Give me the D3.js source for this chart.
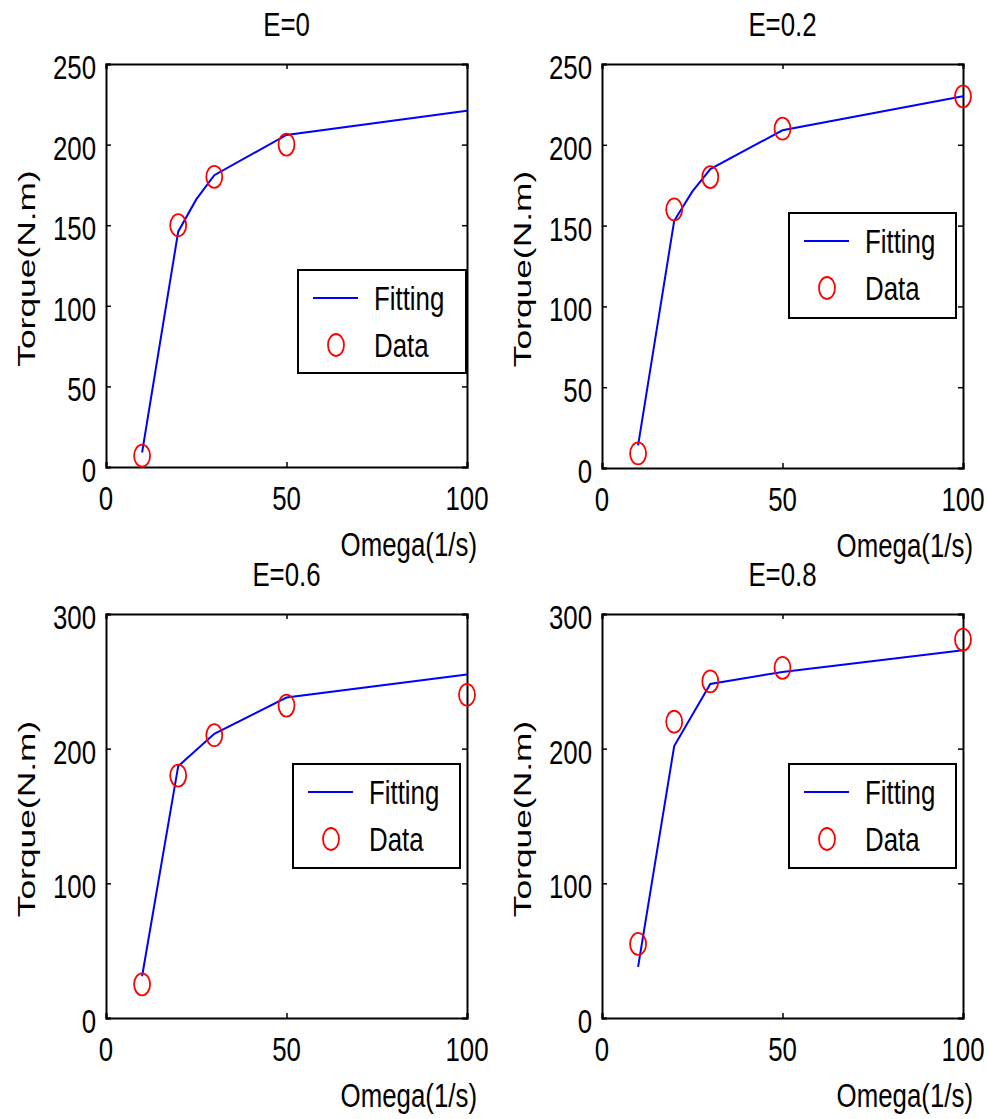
<!DOCTYPE html>
<html>
<head>
<meta charset="utf-8">
<script src="https://cdn.jsdelivr.net/npm/d3@7"></script>
<style>
html,body{margin:0;padding:0;background:#fff;}
svg{display:block;}
</style>
</head>
<body>
<svg id="chart" width="987" height="1119"></svg>
<script>
// ---------- data ----------
const panelTitles = ["E=0", "E=0.2", "E=0.6", "E=0.8"];
const xTicks = [0, 50, 100];
const yTicksTop = [0, 50, 100, 150, 200, 250];
const yTicksBottom = [0, 100, 200, 300];

// measured data (circles)
const omegaData1 = [10, 20, 30, 50];
const torqueData1 = [7, 150, 180, 200];
const omegaData2 = [10, 20, 30, 50, 100];
const torqueData2 = [9, 160, 180, 210, 230];
const omegaData3 = [10, 20, 30, 50, 100];
const torqueData3 = [25, 180, 210, 232, 240];
const omegaData4 = [10, 20, 30, 50, 100];
const torqueData4 = [55, 220, 250, 260, 281];

// fitting curves (lines)
const omegaFit1 = [10, 20, 25, 30, 50, 100];
const torqueFit1 = [9, 146, 166, 181, 206, 221];
const omegaFit2 = [10, 20, 25, 30, 50, 100];
const torqueFit2 = [14, 153, 171, 185, 209, 230];
const omegaFit3 = [10, 20, 30, 50, 100];
const torqueFit3 = [31, 187, 211, 238, 255];
const omegaFit4 = [10, 20, 30, 50, 100];
const torqueFit4 = [38, 202, 248, 257, 273];

const legendLabels = ["Fitting", "Data"];

// ---------- layout ----------
const panels = [
  {title: panelTitles[0], left:106, right:467, top:64, bottom:467, ymax:250, yticks:yTicksTop,
   dx:omegaData1, dy:torqueData1, fx:omegaFit1, fy:torqueFit1, lg:{x:298, y:270, w:168, h:103}},
  {title: panelTitles[1], left:602, right:963, top:64, bottom:468, ymax:250, yticks:yTicksTop,
   dx:omegaData2, dy:torqueData2, fx:omegaFit2, fy:torqueFit2, lg:{x:789, y:213, w:167, h:105}},
  {title: panelTitles[2], left:106, right:467, top:614, bottom:1018, ymax:300, yticks:yTicksBottom,
   dx:omegaData3, dy:torqueData3, fx:omegaFit3, fy:torqueFit3, lg:{x:293, y:764, w:167, h:104}},
  {title: panelTitles[3], left:602, right:963, top:614, bottom:1018, ymax:300, yticks:yTicksBottom,
   dx:omegaData4, dy:torqueData4, fx:omegaFit4, fy:torqueFit4, lg:{x:789, y:764, w:167, h:104}}
];

const FONT = "'Liberation Sans', Arial, Helvetica, sans-serif";
const FS = 34;
const SX = 0.76;
const svg = d3.select("#chart");

function hText(g, x, y, str, anchor) {
  return g.append("text")
    .attr("transform", `translate(${x},${y}) scale(${SX},1)`)
    .attr("text-anchor", anchor || "start")
    .attr("font-family", FONT)
    .attr("font-size", FS)
    .attr("fill", "#000")
    .text(str);
}

panels.forEach(p => {
  const g = svg.append("g");
  const x = d3.scaleLinear().domain([0, 100]).range([p.left, p.right]);
  const y = d3.scaleLinear().domain([0, p.ymax]).range([p.bottom, p.top]);
  const TL = 5;

  // axes (ticks inward, on all four sides)
  const axB = g.append("g").attr("transform", `translate(0,${p.bottom})`)
    .call(d3.axisBottom(x).tickValues(xTicks).tickSize(-TL).tickFormat(""));
  const axT = g.append("g").attr("transform", `translate(0,${p.top})`)
    .call(d3.axisTop(x).tickValues(xTicks).tickSize(-TL).tickFormat(""));
  const axL = g.append("g").attr("transform", `translate(${p.left},0)`)
    .call(d3.axisLeft(y).tickValues(p.yticks).tickSize(-TL).tickFormat(""));
  const axR = g.append("g").attr("transform", `translate(${p.right},0)`)
    .call(d3.axisRight(y).tickValues(p.yticks).tickSize(-TL).tickFormat(""));
  [axB, axT, axL, axR].forEach(a => {
    a.selectAll("path.domain").attr("stroke", "#000").attr("stroke-width", 2);
    a.selectAll(".tick line").attr("stroke", "#000").attr("stroke-width", 1.5);
  });

  // tick labels
  xTicks.forEach(t => hText(g, x(t), p.bottom + 43, String(t), "middle"));
  p.yticks.forEach(t => hText(g, p.left - 10, y(t) + 15, String(t), "end"));

  // title & axis labels
  hText(g, (p.left + p.right) / 2, p.top - 28, p.title, "middle");
  hText(g, p.right + 10, p.bottom + 89, "Omega(1/s)", "end");
  g.append("text")
    .attr("transform", `translate(${p.left - 71},${(p.top + p.bottom) / 2 + 3}) rotate(-90) scale(1.04,0.72)`)
    .attr("text-anchor", "middle")
    .attr("font-family", FONT)
    .attr("font-size", FS)
    .text("Torque(N.m)");

  // fitting line
  const fitPts = p.fx.map((v, i) => [v, p.fy[i]]);
  g.append("path")
    .datum(fitPts)
    .attr("fill", "none")
    .attr("stroke", "#0000ff")
    .attr("stroke-width", 2)
    .attr("d", d3.line().x(d => x(d[0])).y(d => y(d[1])));

  // data circles
  const dataPts = p.dx.map((v, i) => [v, p.dy[i]]);
  g.selectAll("ellipse.data").data(dataPts).enter().append("ellipse")
    .attr("class", "data")
    .attr("cx", d => x(d[0])).attr("cy", d => y(d[1]))
    .attr("rx", 8).attr("ry", 11)
    .attr("fill", "none").attr("stroke", "#ff0000").attr("stroke-width", 1.8);

  // legend
  const L = p.lg;
  g.append("rect").attr("x", L.x).attr("y", L.y).attr("width", L.w).attr("height", L.h)
    .attr("fill", "#fff").attr("stroke", "#000").attr("stroke-width", 2);
  g.append("line").attr("x1", L.x + 15).attr("x2", L.x + 60)
    .attr("y1", L.y + 28).attr("y2", L.y + 28)
    .attr("stroke", "#0000ff").attr("stroke-width", 2);
  g.append("ellipse").attr("cx", L.x + 38).attr("cy", L.y + 75)
    .attr("rx", 8).attr("ry", 11)
    .attr("fill", "none").attr("stroke", "#ff0000").attr("stroke-width", 1.8);
  hText(g, L.x + 76, L.y + 40, legendLabels[0], "start");
  hText(g, L.x + 76, L.y + 87, legendLabels[1], "start");
});
</script>
</body>
</html>
